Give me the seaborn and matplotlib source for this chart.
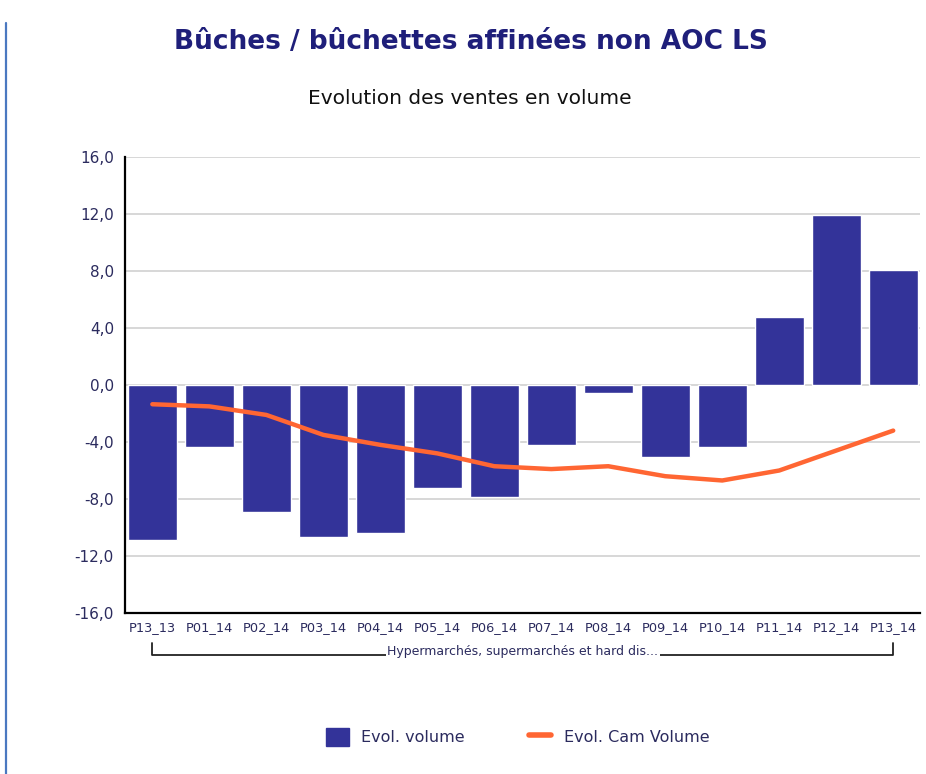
import matplotlib
matplotlib.use("Agg")
import matplotlib.pyplot as plt
import matplotlib.transforms as mtransforms
from matplotlib.patches import Patch
from matplotlib.lines import Line2D
import seaborn as sns
import pandas as pd

categories = ["P13_13", "P01_14", "P02_14", "P03_14", "P04_14", "P05_14", "P06_14",
              "P07_14", "P08_14", "P09_14", "P10_14", "P11_14", "P12_14", "P13_14"]
evol_volume = [-10.9, -4.35, -8.9, -10.7, -10.4, -7.2, -7.85,
               -4.2, -0.55, -5.05, -4.35, 4.75, 11.9, 8.05]
evol_cam_volume = [-1.35, -1.5, -2.1, -3.5, -4.2, -4.8, -5.7,
                   -5.9, -5.7, -6.4, -6.7, -6.0, -4.6, -3.2]
y_ticks = [-16, -12, -8, -4, 0, 4, 8, 12, 16]
title = "Bûches / bûchettes affinées non AOC LS"
subtitle = "Evolution des ventes en volume"
group_label = "Hypermarchés, supermarchés et hard dis..."
legend_labels = ["Evol. volume", "Evol. Cam Volume"]

bar_color = "#333399"
line_color = "#FF6633"
text_navy = "#2b2b5e"

df = pd.DataFrame({"periode": categories, "vol": evol_volume, "cam": evol_cam_volume})

sns.set_theme(style="white")
plt.rcParams["font.family"] = ["DejaVu Sans"]

fig = plt.figure(figsize=(9.26, 7.74), dpi=100)
ax = fig.add_axes([125 / 926, 1 - 613 / 774, (920 - 125) / 926, (613 - 157) / 774])

sns.barplot(data=df, x="periode", y="vol", color=bar_color, width=0.86,
            saturation=1, ax=ax, zorder=2)
sns.lineplot(data=df, x="periode", y="cam", color=line_color, linewidth=3.2,
             sort=False, ax=ax, zorder=3)

ax.set_ylim(-16, 16)
ax.set_xlim(-0.48, 13.47)
ax.set_yticks(y_ticks)
ax.set_yticklabels([f"{v:.1f}".replace(".", ",") for v in y_ticks],
                   fontsize=11, color=text_navy)
ax.tick_params(axis="x", labelsize=9.3, labelcolor=text_navy, length=0, pad=6)
ax.tick_params(axis="y", length=0, pad=8)
ax.set_xlabel("")
ax.set_ylabel("")
ax.yaxis.grid(True, color="#d4d4d4", linewidth=1.3, zorder=0)
ax.set_axisbelow(True)
for s in ["top", "right"]:
    ax.spines[s].set_visible(False)
for s in ["left", "bottom"]:
    ax.spines[s].set_color("black")
    ax.spines[s].set_linewidth(1.6)

# group bracket under the tick labels
trans = mtransforms.blended_transform_factory(ax.transData, ax.transAxes)
y_line = -0.092
y_top = -0.066
ax.plot([0, 0, 13, 13], [y_top, y_line, y_line, y_top], color="#222222",
        linewidth=1.3, transform=trans, clip_on=False)
ax.text(6.5, y_line + 0.008, group_label, transform=trans, ha="center", va="center",
        fontsize=9, color=text_navy,
        bbox=dict(facecolor="white", edgecolor="none", pad=1.0))

# titles
fig.text(471 / 926, 1 - 42 / 774, title, ha="center", va="center", fontsize=19,
         fontweight="bold", color="#1f1f7a")
fig.text(470 / 926, 1 - 99 / 774, subtitle, ha="center", va="center", fontsize=14.5,
         color="#111111")

# legend
handles = [Patch(facecolor=bar_color, edgecolor=bar_color),
           Line2D([0], [0], color=line_color, linewidth=4)]
fig.legend(handles, legend_labels, loc="center", bbox_to_anchor=(518 / 926, 1 - 737 / 774),
           ncol=2, frameon=False, fontsize=11.5, handlelength=1.4, handleheight=1.4,
           columnspacing=4.0, handletextpad=0.8, labelcolor=text_navy)

# page border line on the left
fig.add_artist(Line2D([6 / 926, 6 / 926], [0, 0.97], color="#4a78c0", linewidth=1.6,
                      transform=fig.transFigure))

fig.savefig("out.png", dpi=100, facecolor="white")
